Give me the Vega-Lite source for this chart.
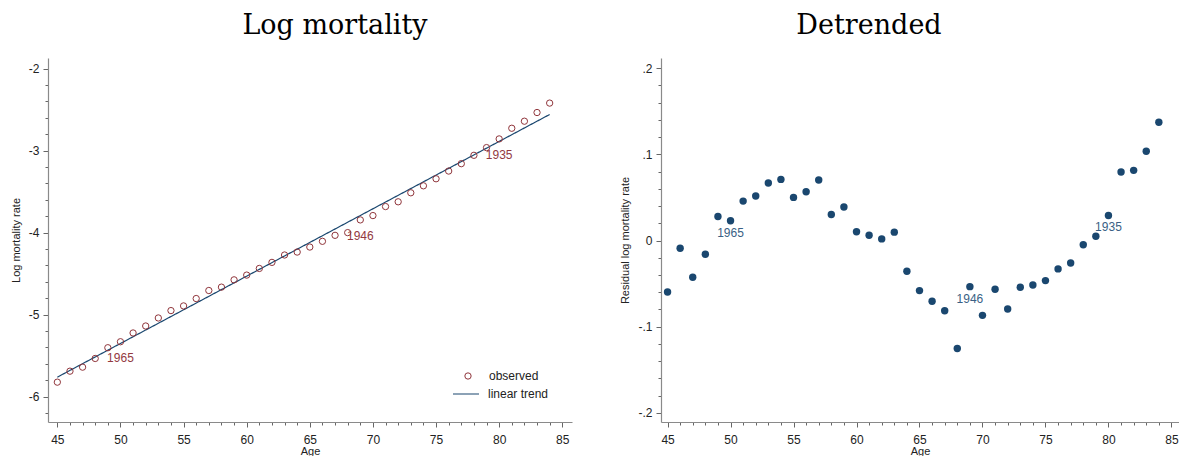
{
  "$schema": "https://vega.github.io/schema/vega-lite/v6.json",
  "padding": {"left": 10, "top": 12, "right": 0, "bottom": 0},
  "background": "white",
  "spacing": 47,
  "config": {
    "view": {"stroke": null},
    "font": "Liberation Sans",
    "axis": {
      "grid": false,
      "tickCount": 100,
      "domainColor": "#8a8a8a",
      "domainWidth": 1.2,
      "tickColor": "#666666",
      "tickWidth": 1,
      "labelFont": "Liberation Sans",
      "labelFontSize": 12,
      "labelColor": "#222222",
      "labelPadding": 4,
      "labelOverlap": false,
      "labelFlush": false,
      "labelBound": false,
      "titleFont": "Liberation Sans",
      "titleFontSize": 11,
      "titleFontWeight": "normal",
      "titleColor": "#222222"
    },
    "axisX": {"labelPadding": 7, "titlePadding": 0},
    "title": {"font": "DejaVu Serif", "fontSize": 27, "fontWeight": "normal", "color": "#000000"}
  },
  "resolve": {"scale": {"shape": "independent", "strokeDash": "independent"}},
  "datasets": {
    "mort": [
      {"age": 45, "logmort": -5.824, "resid": -0.0597, "label": ""},
      {"age": 46, "logmort": -5.690, "resid": -0.0089, "label": ""},
      {"age": 47, "logmort": -5.641, "resid": -0.0426, "label": ""},
      {"age": 48, "logmort": -5.535, "resid": -0.0159, "label": ""},
      {"age": 49, "logmort": -5.404, "resid": 0.0279, "label": ""},
      {"age": 50, "logmort": -5.331, "resid": 0.0229, "label": "1965"},
      {"age": 51, "logmort": -5.224, "resid": 0.0457, "label": ""},
      {"age": 52, "logmort": -5.139, "resid": 0.0516, "label": ""},
      {"age": 53, "logmort": -5.041, "resid": 0.0667, "label": ""},
      {"age": 54, "logmort": -4.951, "resid": 0.0709, "label": ""},
      {"age": 55, "logmort": -4.894, "resid": 0.0500, "label": ""},
      {"age": 56, "logmort": -4.804, "resid": 0.0566, "label": ""},
      {"age": 57, "logmort": -4.706, "resid": 0.0702, "label": ""},
      {"age": 58, "logmort": -4.665, "resid": 0.0302, "label": ""},
      {"age": 59, "logmort": -4.576, "resid": 0.0388, "label": ""},
      {"age": 60, "logmort": -4.518, "resid": 0.0101, "label": ""},
      {"age": 61, "logmort": -4.437, "resid": 0.0062, "label": ""},
      {"age": 62, "logmort": -4.363, "resid": 0.0019, "label": ""},
      {"age": 63, "logmort": -4.273, "resid": 0.0097, "label": ""},
      {"age": 64, "logmort": -4.237, "resid": -0.0357, "label": ""},
      {"age": 65, "logmort": -4.176, "resid": -0.0581, "label": ""},
      {"age": 66, "logmort": -4.106, "resid": -0.0705, "label": ""},
      {"age": 67, "logmort": -4.033, "resid": -0.0814, "label": ""},
      {"age": 68, "logmort": -4.000, "resid": -0.1252, "label": ""},
      {"age": 69, "logmort": -3.845, "resid": -0.0535, "label": "1946"},
      {"age": 70, "logmort": -3.792, "resid": -0.0868, "label": ""},
      {"age": 71, "logmort": -3.682, "resid": -0.0566, "label": ""},
      {"age": 72, "logmort": -3.624, "resid": -0.0795, "label": ""},
      {"age": 73, "logmort": -3.514, "resid": -0.0543, "label": ""},
      {"age": 74, "logmort": -3.429, "resid": -0.0516, "label": ""},
      {"age": 75, "logmort": -3.343, "resid": -0.0465, "label": ""},
      {"age": 76, "logmort": -3.249, "resid": -0.0329, "label": ""},
      {"age": 77, "logmort": -3.159, "resid": -0.0260, "label": ""},
      {"age": 78, "logmort": -3.057, "resid": -0.0050, "label": ""},
      {"age": 79, "logmort": -2.963, "resid": 0.0050, "label": ""},
      {"age": 80, "logmort": -2.857, "resid": 0.0291, "label": "1935"},
      {"age": 81, "logmort": -2.727, "resid": 0.0795, "label": ""},
      {"age": 82, "logmort": -2.641, "resid": 0.0814, "label": ""},
      {"age": 83, "logmort": -2.535, "resid": 0.1035, "label": ""},
      {"age": 84, "logmort": -2.420, "resid": 0.1372, "label": ""}
    ],
    "trend": [
      {"age": 45, "trend": -5.763},
      {"age": 84, "trend": -2.559}
    ]
  },
  "hconcat": [
    {
      "width": 524,
      "height": 364,
      "title": {"text": "Log mortality", "anchor": "middle", "dx": 25, "offset": 18},
      "layer": [
        {
          "data": {"name": "trend"},
          "mark": {"type": "line", "color": "#1a476f", "strokeWidth": 1.2},
          "encoding": {
            "x": {"field": "age", "type": "quantitative", "scale": {"domain": [44.26, 85.77], "nice": false, "zero": false},
              "axis": {"title": "Age", "values": [45,46,47,48,49,50,51,52,53,54,55,56,57,58,59,60,61,62,63,64,65,66,67,68,69,70,71,72,73,74,75,76,77,78,79,80,81,82,83,84,85],
                "labelExpr": "datum.value % 5 === 0 ? '' + datum.value : ''",
                "tickSize": {"condition": {"test": "datum.value % 5 === 0", "value": 5}, "value": 3}}},
            "y": {"field": "trend", "type": "quantitative", "scale": {"domain": [-6.31, -1.87], "nice": false, "zero": false},
              "axis": {"title": "Log mortality rate", "titlePadding": 7, "values": [-6.2,-6,-5.8,-5.6,-5.4,-5.2,-5,-4.8,-4.6,-4.4,-4.2,-4,-3.8,-3.6,-3.4,-3.2,-3,-2.8,-2.6,-2.4,-2.2,-2],
                "labelExpr": "abs(datum.value - round(datum.value)) < 0.001 ? '' + round(datum.value) : ''",
                "tickSize": {"condition": {"test": "abs(datum.value - round(datum.value)) < 0.001", "value": 5}, "value": 3}}},
            "strokeDash": {"datum": "linear trend", "scale": {"domain": ["linear trend"], "range": [[1, 0]]},
              "legend": {"orient": "none", "legendX": 404, "legendY": 322, "title": null, "padding": 0,
                "symbolType": "stroke", "symbolStrokeColor": "#1a476f", "symbolSize": 676, "symbolStrokeWidth": 1.2,
                "labelFont": "Liberation Sans", "labelFontSize": 12, "labelColor": "#222222", "labelOffset": 8}}
          }
        },
        {
          "data": {"name": "mort"},
          "mark": {"type": "point", "filled": false, "color": "#90353b", "size": 40, "strokeWidth": 1, "opacity": 1},
          "encoding": {
            "x": {"field": "age", "type": "quantitative"},
            "y": {"field": "logmort", "type": "quantitative"},
            "shape": {"datum": "observed", "scale": {"domain": ["observed"], "range": ["circle"]},
              "legend": {"orient": "none", "legendX": 414, "legendY": 312, "title": null, "padding": 0,
                "symbolStrokeColor": "#90353b", "symbolFillColor": "transparent", "symbolSize": 40, "symbolStrokeWidth": 1,
                "labelFont": "Liberation Sans", "labelFontSize": 12, "labelColor": "#222222", "labelOffset": 15}}
          }
        },
        {
          "data": {"name": "mort"},
          "transform": [{"filter": "datum.label != ''"}],
          "mark": {"type": "text", "color": "#93393f", "fontSize": 12, "font": "Liberation Sans", "align": "center", "baseline": "middle", "dy": 16},
          "encoding": {
            "x": {"field": "age", "type": "quantitative"},
            "y": {"field": "logmort", "type": "quantitative"},
            "text": {"field": "label"}
          }
        }
      ]
    },
    {
      "width": 518,
      "height": 364,
      "title": {"text": "Detrended", "anchor": "middle", "dx": -51, "offset": 18},
      "layer": [
        {
          "data": {"name": "mort"},
          "mark": {"type": "circle", "color": "#1a476f", "size": 55, "opacity": 1},
          "encoding": {
            "x": {"field": "age", "type": "quantitative", "scale": {"domain": [44.48, 85.6], "nice": false, "zero": false},
              "axis": {"title": "Age", "values": [45,46,47,48,49,50,51,52,53,54,55,56,57,58,59,60,61,62,63,64,65,66,67,68,69,70,71,72,73,74,75,76,77,78,79,80,81,82,83,84,85],
                "labelExpr": "datum.value % 5 === 0 ? '' + datum.value : ''",
                "tickSize": {"condition": {"test": "datum.value % 5 === 0", "value": 5}, "value": 3}}},
            "y": {"field": "resid", "type": "quantitative", "scale": {"domain": [-0.2105, 0.2117], "nice": false, "zero": false},
              "axis": {"title": "Residual log mortality rate", "titlePadding": 7, "values": [-0.2,-0.18,-0.16,-0.14,-0.12,-0.1,-0.08,-0.06,-0.04,-0.02,0,0.02,0.04,0.06,0.08,0.1,0.12,0.14,0.16,0.18,0.2],
                "labelExpr": "abs(datum.value*10 - round(datum.value*10)) < 0.001 ? (abs(datum.value) < 0.001 ? '0' : replace('' + round(datum.value*10)/10, '0.', '.')) : ''",
                "tickSize": {"condition": {"test": "abs(datum.value*10 - round(datum.value*10)) < 0.001", "value": 5}, "value": 3}}}
          }
        },
        {
          "data": {"name": "mort"},
          "transform": [{"filter": "datum.label != ''"}],
          "mark": {"type": "text", "color": "#3a5f85", "fontSize": 12, "font": "Liberation Sans", "align": "center", "baseline": "middle", "dy": 12},
          "encoding": {
            "x": {"field": "age", "type": "quantitative"},
            "y": {"field": "resid", "type": "quantitative"},
            "text": {"field": "label"}
          }
        }
      ]
    }
  ]
}
